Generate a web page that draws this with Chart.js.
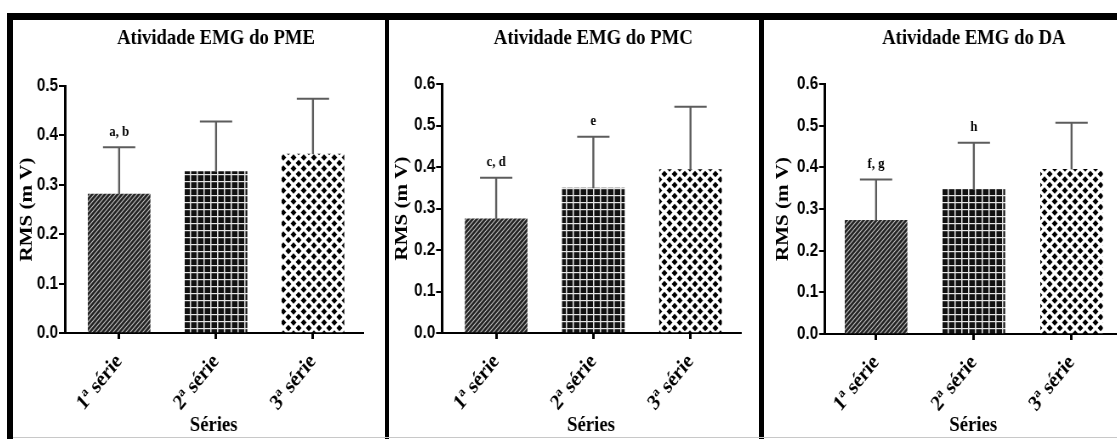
<!DOCTYPE html>
<html lang="pt">
<head>
<meta charset="UTF-8">
<title>Atividade EMG</title>
<script src="https://cdn.jsdelivr.net/npm/chart.js@4.4.1/dist/chart.umd.min.js"></script>
<style>
    html, body { margin: 0; padding: 0; background: #fff; }
    body { width: 1117px; height: 439px; position: relative; overflow: hidden; }
    .panel { position: absolute; top: 20px; transform: scaleX(0.85); transform-origin: 0 0; }
    .line { position: absolute; background: #000; }
</style>
</head>
<body>
    <div class="line" style="left:7px;top:13px;width:1110px;height:7px"></div>
    <div class="line" style="left:7px;top:13px;width:6px;height:426px"></div>
    <div class="line" style="left:385px;top:13px;width:4px;height:426px"></div>
    <div class="line" style="left:759px;top:13px;width:5px;height:426px"></div>
    <div style="position:absolute;left:13px;top:437px;width:1104px;height:1px;background:#c8c8c8"></div>

    <div class="panel" style="left:13px"><canvas id="pme" width="438" height="416" style="width:438px;height:416px"></canvas></div>
    <div class="panel" style="left:389px"><canvas id="pmc" width="435" height="416" style="width:435px;height:416px"></canvas></div>
    <div class="panel" style="left:764px"><canvas id="da" width="460" height="416" style="width:460px;height:416px"></canvas></div>

<script>
    // values (mean and upper SD)
    const categories = ['1ª série', '2ª série', '3ª série'];

    const pmeMean = [0.281, 0.327, 0.362];
    const pmeSd = [0.095, 0.101, 0.112];
    const pmeNotes = ['a, b', '', ''];

    const pmcMean = [0.275, 0.349, 0.394];
    const pmcSd = [0.099, 0.124, 0.151];
    const pmcNotes = ['c, d', 'e', ''];

    const daMean = [0.273, 0.347, 0.395];
    const daSd = [0.098, 0.112, 0.112];
    const daNotes = ['f, g', 'h', ''];

    const serif = 'Liberation Serif';
    const sans = 'Liberation Sans';

    function makeTile(w, h, draw) {
        const c = document.createElement('canvas');
        c.width = w;
        c.height = h;
        const g = c.getContext('2d');
        draw(g, w, h);
        return g.createPattern(c, 'repeat');
    }

    const hatch = makeTile(5, 5, function(g, w, h) {
        g.fillStyle = '#232323';
        g.fillRect(0, 0, w, h);
        g.strokeStyle = '#bdbdbd';
        g.lineWidth = 1.1;
        g.beginPath();
        g.moveTo(-1, h + 1); g.lineTo(w + 1, -1);
        g.moveTo(-1, 1); g.lineTo(1, -1);
        g.moveTo(w - 1, h + 1); g.lineTo(w + 1, h - 1);
        g.stroke();
    });

    const grid = makeTile(8, 7, function(g, w, h) {
        g.fillStyle = '#111';
        g.fillRect(0, 0, w, h);
        g.fillStyle = '#e6e6e6';
        g.fillRect(0, 0, 1.5, h);
        g.fillRect(0, 0, w, 1.2);
    });

    const dots = makeTile(12, 11, function(g, w, h) {
        g.fillStyle = '#fff';
        g.fillRect(0, 0, w, h);
        g.fillStyle = '#000';
        [[0, 0], [w, 0], [0, h], [w, h], [w / 2, h / 2]].forEach(function(p) {
            g.beginPath();
            g.moveTo(p[0] - 3.5, p[1]);
            g.lineTo(p[0], p[1] - 3.2);
            g.lineTo(p[0] + 3.5, p[1]);
            g.lineTo(p[0], p[1] + 3.2);
            g.closePath();
            g.fill();
        });
    });

    // error bars, letters and panel title
    function makeExtras(title, means, sds, notes) {
        return {
            id: 'extras',
            afterDatasetsDraw: function(chart) {
                const ctx = chart.ctx;
                const ys = chart.scales.y;
                const xs = chart.scales.x;
                const meta = chart.getDatasetMeta(0);
                ctx.save();
                meta.data.forEach(function(bar, i) {
                    const top = ys.getPixelForValue(means[i] + sds[i]);
                    ctx.strokeStyle = '#5c5c5c';
                    ctx.lineWidth = 2.4;
                    ctx.beginPath();
                    ctx.moveTo(bar.x, bar.y);
                    ctx.lineTo(bar.x, top);
                    ctx.stroke();
                    ctx.lineWidth = 2;
                    ctx.beginPath();
                    ctx.moveTo(bar.x - 19, top);
                    ctx.lineTo(bar.x + 19, top);
                    ctx.stroke();
                    if (notes[i]) {
                        ctx.fillStyle = '#000';
                        ctx.font = 'bold 15px "' + serif + '"';
                        ctx.textAlign = 'center';
                        ctx.textBaseline = 'bottom';
                        ctx.fillText(notes[i], bar.x, top - 8);
                    }
                });
                ctx.fillStyle = '#000';
                ctx.font = 'bold 22px "' + serif + '"';
                ctx.textAlign = 'center';
                ctx.textBaseline = 'alphabetic';
                ctx.fillText(title, xs.getPixelForValue(2), 24);
                ctx.restore();
            }
        };
    }

    function makePanel(id, title, means, sds, notes, yMax, box) {
        return new Chart(document.getElementById(id), {
            type: 'bar',
            data: {
                datasets: [{
                    data: means.map(function(v, i) { return {x: i + 1, y: v}; }),
                    backgroundColor: [hatch, grid, dots],
                    borderWidth: 0,
                    barThickness: 73
                }]
            },
            options: {
                responsive: false,
                animation: false,
                devicePixelRatio: 1,
                layout: { padding: { top: box.top, right: box.right, left: 0, bottom: 0 } },
                plugins: { legend: { display: false }, tooltip: { enabled: false } },
                scales: {
                    x: {
                        type: 'linear',
                        offset: false,
                        min: box.xMin,
                        max: box.xMax,
                        afterBuildTicks: function(s) { s.ticks = categories.map(function(c, i) { return {value: i + 1}; }); },
                        afterFit: function(s) {
                            s.height = box.xHeight;
                            s.paddingLeft = 0;
                            s.paddingRight = 0;
                        },
                        grid: { offset: false, drawOnChartArea: false, color: '#000', lineWidth: 3, tickLength: 6 },
                        border: { color: '#000', width: 2 },
                        ticks: {
                            autoSkip: false,
                            minRotation: 47, maxRotation: 47, padding: 10, color: '#000',
                            font: { family: serif, weight: 'bold', size: 22 },
                            callback: function(v) { return categories[v - 1]; }
                        },
                        title: {
                            display: true, text: 'Séries', color: '#000',
                            font: { family: serif, weight: 'bold', size: 22, lineHeight: 1 },
                            padding: { top: 0, bottom: 0 }
                        }
                    },
                    y: {
                        min: 0,
                        max: yMax,
                        afterFit: function(s) { s.width = box.axis; },
                        grid: { drawOnChartArea: false, color: '#000', lineWidth: 2, tickLength: 7 },
                        border: { color: '#000', width: 3 },
                        ticks: {
                            stepSize: 0.1, padding: 1, color: '#000',
                            font: { family: sans, weight: 'bold', size: 18 },
                            callback: function(v) { return Number(v).toFixed(1); }
                        },
                        title: {
                            display: true, text: 'RMS (m V)', color: '#000',
                            font: { family: serif, weight: 'bold', size: 21, lineHeight: 1.2 },
                            padding: { top: box.titlePad, bottom: 0 }
                        }
                    }
                }
            },
            plugins: [makeExtras(title, means, sds, notes)]
        });
    }

    makePanel('pme', 'Atividade EMG do PME', pmeMean, pmeSd, pmeNotes, 0.5,
        { axis: 61, top: 66, right: 27, xMin: 0.44, xMax: 3.51, xHeight: 103, titlePad: 4 });
    makePanel('pmc', 'Atividade EMG do PMC', pmcMean, pmcSd, pmcNotes, 0.6,
        { axis: 62.4, top: 64, right: 22, xMin: 0.443, xMax: 3.51, xHeight: 103, titlePad: 3 });
    makePanel('da', 'Atividade EMG do DA', daMean, daSd, daNotes, 0.6,
        { axis: 71.8, top: 64, right: 39.5, xMin: 0.478, xMax: 3.51, xHeight: 102, titlePad: 10 });
</script>
</body>
</html>
